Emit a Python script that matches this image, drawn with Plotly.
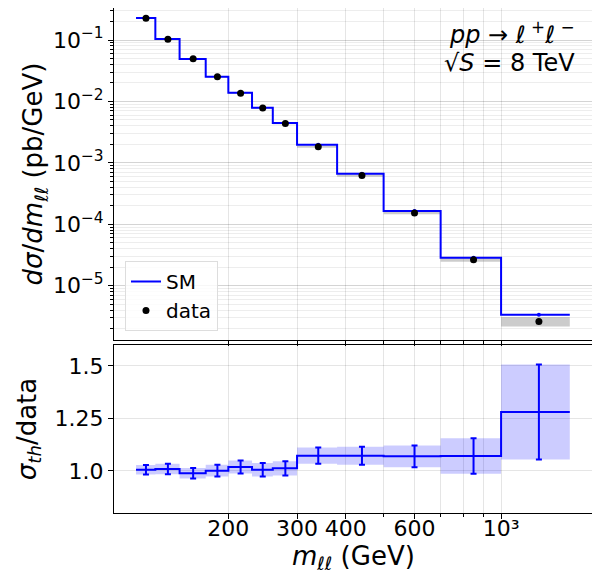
import plotly.graph_objects as go
from plotly.subplots import make_subplots

# bin edges of m_ll (GeV)
edges = [116, 130, 150, 175, 200, 230, 260, 300, 380, 500, 700, 1000, 1500]
centers = [123, 140, 162.5, 187.5, 215, 245, 280, 340, 440, 600, 850, 1250]

# SM prediction dsigma/dm (pb/GeV)
sm = [0.228, 0.104, 0.0491, 0.0252, 0.01387, 0.00788, 0.00445, 0.00197,
      6.65e-4, 1.64e-4, 2.84e-5, 3.36e-6]
# measured data (pb/GeV)
data = [0.2266, 0.1030, 0.0496, 0.02516, 0.01361, 0.00783, 0.00439, 0.001836,
        6.2e-4, 1.53e-4, 2.65e-5, 2.62e-6]
# ratio sigma_th / data and its uncertainty
ratio = [1.006, 1.0095, 0.989, 1.0016, 1.019, 1.006, 1.013, 1.073,
         1.073, 1.070, 1.0714, 1.281]
ratio_err = [0.023, 0.025, 0.025, 0.028, 0.031, 0.032, 0.034, 0.039,
             0.043, 0.052, 0.084, 0.226]

BLUE = "rgb(0,0,255)"
FONT = "DejaVu Sans"


def step(vals):
    return list(vals) + [vals[-1]]


rel = [e / r for e, r in zip(ratio_err, ratio)]
data_hi = [d * (1 + s) for d, s in zip(data, rel)]
data_lo = [d * (1 - s) for d, s in zip(data, rel)]
r_hi = [r + e for r, e in zip(ratio, ratio_err)]
r_lo = [r - e for r, e in zip(ratio, ratio_err)]

fig = make_subplots(rows=2, cols=1, shared_xaxes=False, vertical_spacing=0.0,
                    row_heights=[0.66, 0.34])

# top panel: data uncertainty band
fig.add_trace(go.Scatter(x=edges, y=step(data_lo), mode="lines", line=dict(width=0, shape="hv"),
                         showlegend=False, hoverinfo="skip"), row=1, col=1)
fig.add_trace(go.Scatter(x=edges, y=step(data_hi), mode="lines", line=dict(width=0, shape="hv"),
                         fill="tonexty", fillcolor="rgba(128,128,128,0.4)",
                         showlegend=False, hoverinfo="skip"), row=1, col=1)
fig.add_trace(go.Scatter(x=edges, y=step(sm), mode="lines", name="SM",
                         line=dict(color=BLUE, width=2, shape="hv")), row=1, col=1)
fig.add_trace(go.Scatter(x=centers, y=sm, mode="markers", showlegend=False,
                         marker=dict(color=BLUE, size=4)), row=1, col=1)
fig.add_trace(go.Scatter(x=centers, y=data, mode="markers", name="data",
                         marker=dict(color="black", size=7)), row=1, col=1)

# bottom panel: ratio
fig.add_trace(go.Scatter(x=edges, y=step(r_lo), mode="lines", line=dict(width=0, shape="hv"),
                         showlegend=False, hoverinfo="skip"), row=2, col=1)
fig.add_trace(go.Scatter(x=edges, y=step(r_hi), mode="lines", line=dict(width=0, shape="hv"),
                         fill="tonexty", fillcolor="rgba(0,0,255,0.2)",
                         showlegend=False, hoverinfo="skip"), row=2, col=1)
fig.add_trace(go.Scatter(x=edges, y=step(ratio), mode="lines", showlegend=False,
                         line=dict(color=BLUE, width=2, shape="hv")), row=2, col=1)
fig.add_trace(go.Scatter(x=centers, y=ratio, mode="markers", showlegend=False,
                         marker=dict(color=BLUE, size=1),
                         error_y=dict(type="data", array=ratio_err, color=BLUE,
                                      thickness=2, width=3)), row=2, col=1)

grid = "rgba(0,0,0,0.1)"
xcommon = dict(type="log", range=[2.008, 3.233], tickmode="array",
               tickvals=[200, 300, 400, 600, 1000],
               ticktext=["200", "300", "400", "600", "10³"],
               ticks="outside", ticklen=5, tickcolor="black", automargin=False,
               showgrid=True, gridcolor=grid, gridwidth=1,
               showline=True, linecolor="black", linewidth=1, mirror=True,
               minor=dict(tickmode="array", tickvals=[500, 700, 800, 900],
                          ticks="outside", ticklen=3, tickcolor="black",
                          showgrid=True, gridcolor=grid),
               tickfont=dict(size=22, color="black"))

fig.update_xaxes(**xcommon, showticklabels=False, row=1, col=1)
fig.update_xaxes(**xcommon, ticklabelstandoff=-9, row=2, col=1)

fig.update_yaxes(type="log", range=[-5.884, -0.479], tickmode="array",
                 tickvals=[1e-5, 1e-4, 1e-3, 1e-2, 1e-1],
                 ticktext=["10<sup>−5</sup>", "10<sup>−4</sup>", "10<sup>−3</sup>",
                           "10<sup>−2</sup>", "10<sup>−1</sup>"],
                 ticks="outside", ticklen=5, tickcolor="black", automargin=False,
                 showgrid=True, gridcolor=grid,
                 minor=dict(dtick="D1", ticks="outside", ticklen=3, tickcolor="black",
                            showgrid=True, gridcolor="rgba(0,0,0,0.07)"),
                 showline=True, linecolor="black", linewidth=1, mirror=True,
                 tickfont=dict(size=22, color="black"),
                 title=dict(text="<i>dσ</i>/<i>dm</i><sub><i>ℓℓ</i></sub> (pb/GeV)",
                            font=dict(size=26, color="black"), standoff=2),
                 row=1, col=1)
fig.update_yaxes(range=[0.8, 1.6], tickmode="array", tickvals=[1.0, 1.25, 1.5],
                 ticktext=["1.0", "1.25", "1.5"],
                 ticks="outside", ticklen=5, tickcolor="black", automargin=False,
                 showgrid=True, gridcolor=grid, zeroline=False,
                 showline=True, linecolor="black", linewidth=1, mirror=True,
                 tickfont=dict(size=22, color="black"),
                 title=dict(text="<i>σ</i><sub><i>th</i></sub>/data",
                            font=dict(size=26, color="black"), standoff=10),
                 row=2, col=1)

# place panels to match the reference geometry (page has an 8px body offset)
fig.update_layout(yaxis=dict(domain=[0.3426, 1.0]), yaxis2=dict(domain=[0.0, 0.3327]))

# x-axis title as annotation for exact placement
fig.add_annotation(x=0.5, y=-0.089, xref="paper", yref="paper", xanchor="center",
                   yanchor="middle", showarrow=False,
                   text="<i>m</i><sub><i>ℓℓ</i></sub> (GeV)",
                   font=dict(size=26, color="black", family=FONT))

fig.add_annotation(x=0.9686, y=0.9505, xref="paper", yref="paper", xanchor="right",
                   yanchor="middle", showarrow=False,
                   text="<i>pp</i> → <i>ℓ</i><sup> +</sup><i>ℓ</i><sup> −</sup>",
                   font=dict(size=24, color="black", family=FONT))
fig.add_annotation(x=0.9686, y=0.891, xref="paper", yref="paper", xanchor="right",
                   yanchor="middle", showarrow=False,
                   text="√<i>S</i> = 8 TeV",
                   font=dict(size=24, color="black", family=FONT))

fig.update_layout(width=592, height=569, margin=dict(l=106, r=8, t=0, b=64),
                  paper_bgcolor="white", plot_bgcolor="white",
                  font=dict(family=FONT, color="black"),
                  legend=dict(x=0.023, y=0.3604, xanchor="left", yanchor="bottom",
                              traceorder="normal",
                              bgcolor="rgba(255,255,255,0.8)", bordercolor="#dddddd",
                              borderwidth=1, font=dict(size=20)))

fig.write_html("out.html")
